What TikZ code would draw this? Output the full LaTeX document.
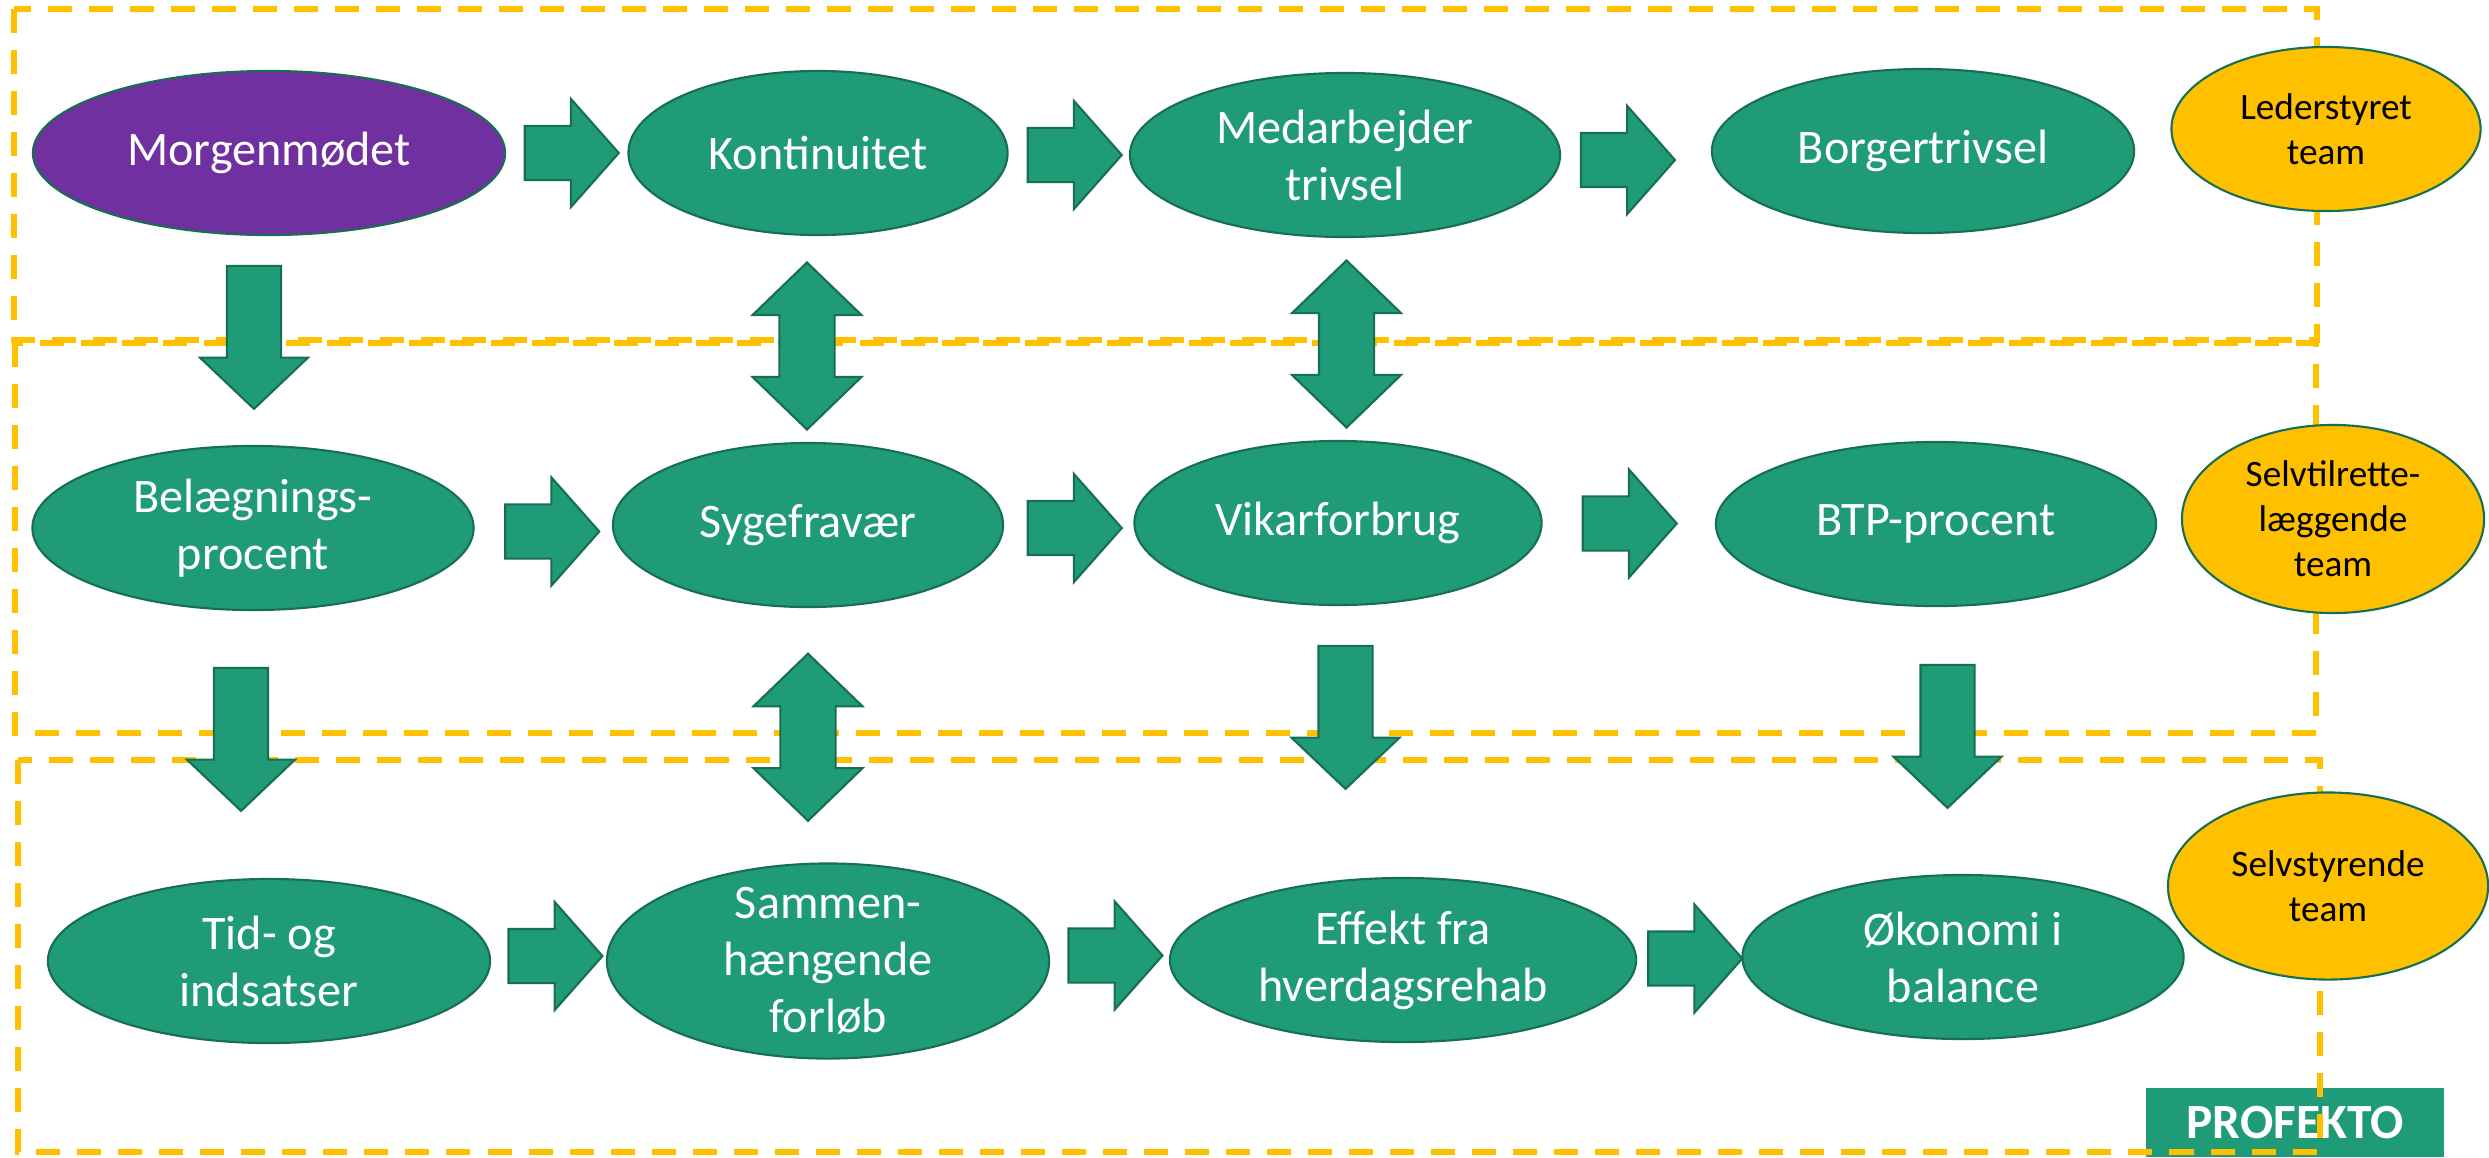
\documentclass[tikz,border=0pt]{standalone}
\usepackage{fontspec}
\setmainfont{Carlito}
\usepackage{tikz}
\usetikzlibrary{shapes.geometric, shapes.arrows, calc}

\definecolor{kgreen}{HTML}{1F9B77}
\definecolor{kdark}{HTML}{186E53}
\definecolor{kpurple}{HTML}{7030A0}
\definecolor{kgold}{HTML}{FFC000}

\tikzset{
  gnode/.style={ellipse, draw=kdark, line width=0.6pt, fill=kgreen, text=white,
    minimum width=44mm, minimum height=16.4mm, inner sep=0pt, inner ysep=-6mm,
    align=center, font=\fontsize{13.7}{16.2}\selectfont},
  tnode/.style={gnode, fill=kgold, text=black, font=\fontsize{10.6}{12.8}\selectfont},
  harrow/.style={single arrow, draw=kdark, line width=0.6pt, fill=kgreen,
    inner xsep=0pt, inner ysep=2.6mm, minimum width=0pt, minimum height=9.4mm,
    single arrow head extend=2.7mm, single arrow tip angle=97},
  varrow/.style={harrow, rotate=-90, minimum height=14.3mm, single arrow tip angle=93},
  barrow/.style={double arrow, draw=kdark, line width=0.6pt, fill=kgreen, rotate=90,
    inner xsep=0pt, inner ysep=2.65mm, minimum width=0pt, minimum height=16.7mm,
    double arrow head extend=2.7mm, double arrow tip angle=92},
  tbox/.style={draw=kgold, line width=1.55pt, dash pattern=on 2.4mm off 1.7mm},
  logo/.style={rectangle, fill=kgreen, text=white, minimum width=29.8mm,
    minimum height=6.9mm, font=\fontsize{14}{16}\selectfont\bfseries}
}

\begin{document}
\begin{tikzpicture}[x=0.01cm, y=-0.01cm]
    \useasboundingbox (0,0) rectangle (2489,1157);

    \node[logo] (profekto) at (2295,1122) {PROFEKTO};

    % team frames
    \draw[tbox] (14,9) rectangle (2317,340);
    \draw[tbox] (15,343) rectangle (2316,733);
    \draw[tbox] (18,760) rectangle (2320,1152);

    \node[gnode, fill=kpurple, minimum width=47.2mm] at (269,153) (morgen) {Morgenmødet};
    \node[gnode, minimum width=37.9mm] at (818,153) (kont) {Kontinuitet};
    \node[gnode, minimum width=43mm] at (1345,155) (medarb) {Medarbejder\\trivsel};
    \node[gnode, minimum width=42.2mm] at (1923,151) (borger) {Borgertrivsel};
    \node[tnode, minimum width=30.9mm] at (2326,129) (leder) {Lederstyret\\team};

    \node[gnode, minimum width=44.1mm] at (253,528) (belaeg) {Belægnings-\\procent};
    \node[gnode, minimum width=39mm] at (808,525) (syge) {Sygefravær};
    \node[gnode, minimum width=40.7mm] at (1338,523) (vikar) {Vikarforbrug};
    \node[gnode, minimum width=44mm] at (1936,524) (btp) {BTP-procent};
    \node[tnode, minimum width=30.2mm, minimum height=18.8mm] at (2333,519) (selvtil) {Selvtilrette-\\læggende\\team};

    \node[gnode, minimum width=44.2mm] at (269,961) (tid) {Tid- og\\indsatser};
    \node[gnode, minimum width=44.2mm, minimum height=19.5mm] at (828,961) (sammen) {Sammen-\\hængende\\forløb};
    \node[gnode, minimum width=46.6mm] at (1403,960) (effekt) {Effekt fra\\hverdagsrehab};
    \node[gnode, minimum width=44.1mm] at (1963,957) (oekon) {Økonomi i\\balance};
    \node[tnode, minimum width=32mm, minimum height=18.7mm] at (2328,886) (selvsty) {Selvstyrende\\team};

    % block arrows
    \node[harrow] (a1) at ($(morgen.east)!.5!(kont.west)+(-7,0)$) {};
    \node[harrow] (a2) at ($(kont.east)!.5!(medarb.west)+(-6,1)$) {};
    \node[harrow] (a3) at ($(medarb.east)!.5!(borger.west)+(-20,7)$) {};
    \node[harrow] (a4) at ($(belaeg.east)!.5!(syge.west)+(-3,5)$) {};
    \node[harrow] (a5) at ($(syge.east)!.5!(vikar.west)+(-6,4)$) {};
    \node[harrow] (a6) at ($(vikar.east)!.5!(btp.west)+(-11,0)$) {};
    \node[harrow] (a7) at ($(tid.east)!.5!(sammen.west)+(-5,-5)$) {};
    \node[harrow] (a8) at ($(sammen.east)!.5!(effekt.west)+(-6,-5)$) {};
    \node[harrow] (a9) at ($(effekt.east)!.5!(oekon.west)+(-6,0)$) {};

    \node[varrow] (d1) at ($(morgen.south)!.5!(belaeg.north)+(-7,-16)$) {};
    \node[varrow] (d2) at ($(belaeg.south)!.5!(tid.north)+(-20,-18)$) {};
    \node[varrow] (d3) at ($(vikar.south)!.5!(effekt.north)+(-25,-37)$) {};
    \node[varrow] (d4) at ($(btp.south)!.5!(oekon.north)+(-2,-17)$) {};

    \node[barrow] (b1) at ($(kont.south)!.5!(syge.north)+(-6,7)$) {};
    \node[barrow] (b2) at ($(medarb.south)!.5!(vikar.north)+(5,5)$) {};
    \node[barrow] (b3) at ($(syge.south)!.5!(sammen.north)+(-10,2)$) {};
\end{tikzpicture}
\end{document}
